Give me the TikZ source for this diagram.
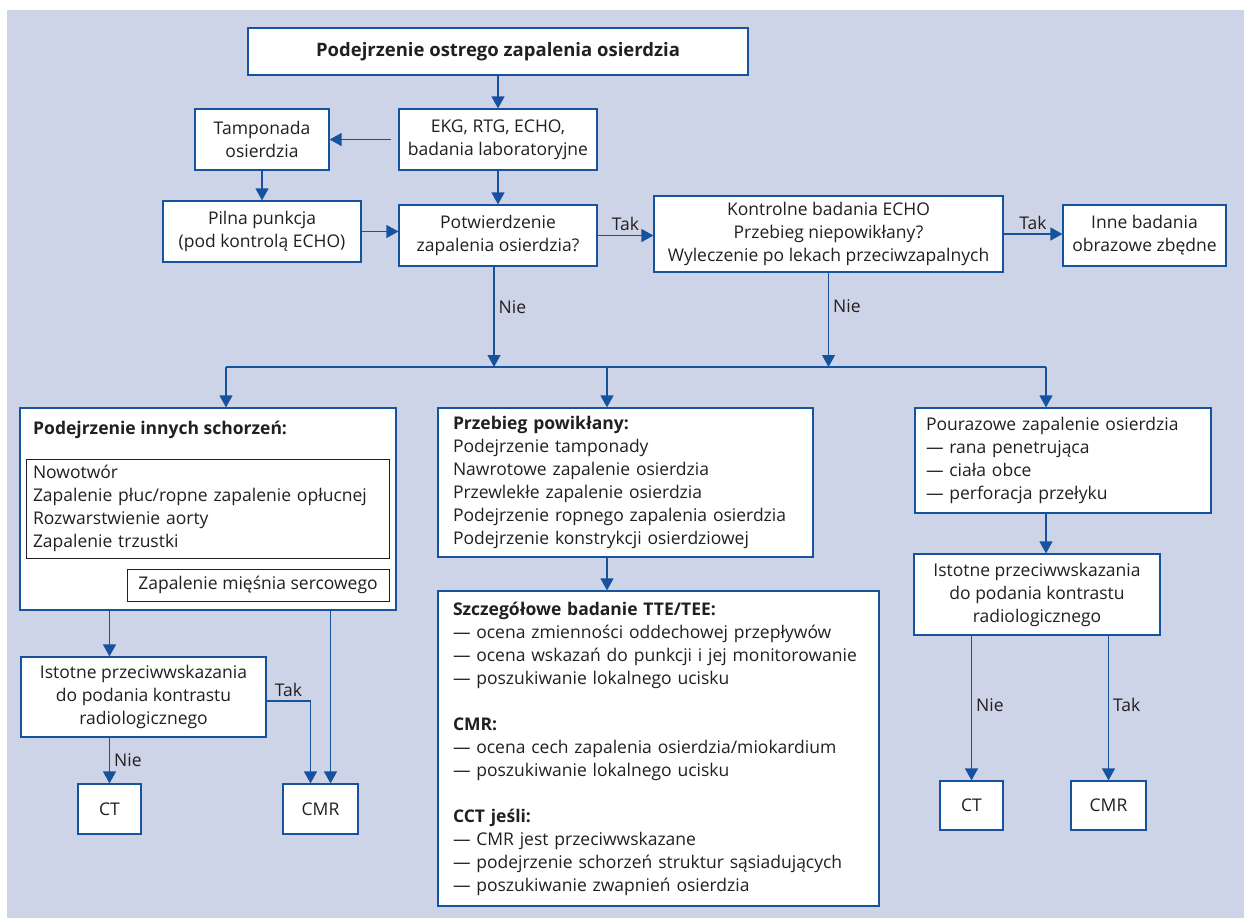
\documentclass[tikz,border=0pt]{standalone}
\usepackage{fontspec}
\setmainfont{Open Sans}
\usetikzlibrary{arrows.meta}
\definecolor{bgblue}{RGB}{205,212,231}
\definecolor{lineblue}{RGB}{22,82,158}
\definecolor{txt}{RGB}{35,31,32}
\tikzset{
  box/.style={draw=lineblue, fill=white, line width=1.2pt, text=txt, align=center,
    inner sep=0pt, font=\fontsize{17.5}{23}\selectfont},
  listbox/.style={box, align=left},
  innerbox/.style={box, draw=txt, line width=1pt},
  conn/.style={draw=lineblue, line width=1.3pt},
  arr/.style={conn, -{Triangle[width=13pt,length=12pt]}},
  lbl/.style={text=txt, font=\fontsize{17.5}{23}\selectfont, inner sep=4pt}
}
\begin{document}
\begin{tikzpicture}[x=1pt, y=-1pt]
% Background panel
\useasboundingbox (0,0) rectangle (1244,918);
\fill[bgblue] (7,10) rectangle (1244,918);

% Top part of the chart
\node[box, minimum width=500, minimum height=47, font=\fontsize{18.5}{23}\selectfont\bfseries] (start) at (498,51.5) {Podejrzenie ostrego zapalenia osierdzia};
\node[box, minimum width=198, minimum height=61] (ekg) at (498,139.5) {EKG, RTG, ECHO,\\badania laboratoryjne};
\node[box, minimum width=134, minimum height=61] (tamp) at (262,139.5) {Tamponada\\osierdzia};
\node[box, minimum width=198, minimum height=61] (pilna) at (262,231.5) {Pilna punkcja\\(pod kontrolą ECHO)};
\node[box, minimum width=198, minimum height=61] (potw) at (498,235.5) {Potwierdzenie\\zapalenia osierdzia?};
\node[box, minimum width=349, minimum height=76] (kontr) at (828.5,234) {Kontrolne badania ECHO\\Przebieg niepowikłany?\\Wyleczenie po lekach przeciwzapalnych};
\node[box, minimum width=163, minimum height=61] (inne) at (1144.5,235.5) {Inne badania\\obrazowe zbędne};

% Split line
\coordinate (busL) at (226,367);
\coordinate (busM) at (607,367);
\coordinate (busR) at (1046,367);
\coordinate (potwN) at (494,367);
\coordinate (kontrN) at (828.5,367);

% Left branch
\node[box, minimum width=376, minimum height=202] (inny) at (208,509) {};
\node[text=txt, anchor=west, inner sep=0pt, font=\fontsize{17.5}{23}\selectfont\bfseries] (innyT) at (33,430) {Podejrzenie innych schorzeń:};
\node[innerbox, align=left, text width=349, inner xsep=7pt, minimum height=99] (innyA) at (207.5,508.5) {Nowotwór\\Zapalenie płuc/ropne zapalenie opłucnej\\Rozwarstwienie aorty\\Zapalenie trzustki};
\node[innerbox, minimum width=262, minimum height=32] (innyB) at (258,585) {Zapalenie mięśnia sercowego};
\node[box, minimum width=245, minimum height=80] (istL) at (143.5,697) {Istotne przeciwwskazania\\do podania kontrastu\\radiologicznego};
\node[box, minimum width=63, minimum height=50] (ctL) at (109.5,809) {CT};
\node[box, minimum width=75, minimum height=50] (cmrL) at (320.5,809) {CMR};
\coordinate (cmrLtak) at ([xshift=-10pt]cmrL.north);
\coordinate (cmrLin) at ([xshift=10pt]cmrL.north);

% Middle branch
\node[listbox, text width=345, inner xsep=15pt, minimum height=149] (prz) at (625.5,482.5) {\textbf{Przebieg powikłany:}\\Podejrzenie tamponady\\Nawrotowe zapalenie osierdzia\\Przewlekłe zapalenie osierdzia\\Podejrzenie ropnego zapalenia osierdzia\\Podejrzenie konstrykcji osierdziowej};
\node[listbox, text width=411, inner xsep=15pt, minimum height=315] (szcz) at (658.5,748.5) {\textbf{Szczegółowe badanie TTE/TEE:}\\— ocena zmienności oddechowej przepływów\\— ocena wskazań do punkcji i jej monitorowanie\\— poszukiwanie lokalnego ucisku\\[23pt]\textbf{CMR:}\\— ocena cech zapalenia osierdzia/miokardium\\— poszukiwanie lokalnego ucisku\\[23pt]\textbf{CCT jeśli:}\\— CMR jest przeciwwskazane\\— podejrzenie schorzeń struktur sąsiadujących\\— poszukiwanie zwapnień osierdzia};

% Right branch
\node[listbox, text width=274, inner xsep=11pt, minimum height=105] (pour) at (1063,460.5) {Pourazowe zapalenie osierdzia\\— rana penetrująca\\— ciała obce\\— perforacja przełyku};
\node[box, minimum width=246, minimum height=81] (istR) at (1037,594.5) {Istotne przeciwwskazania\\do podania kontrastu\\radiologicznego};
\node[box, minimum width=63, minimum height=49] (ctR) at (971.5,805.5) {CT};
\node[box, minimum width=75, minimum height=49] (cmrR) at (1108.5,805.5) {CMR};

% Connectors, top part
\draw[arr] (start) -- (ekg);
\draw[arr, shorten <=7pt] (ekg.west) -- (tamp.east);
\draw[arr] (tamp) -- (pilna);
\draw[arr] (ekg) -- (potw);
\draw[arr] (pilna.east) -- (pilna.east -| potw.west);
\draw[arr] (potw.east) -- node[lbl, above] (takA) {Tak} (potw.east -| kontr.west);
\draw[arr] (kontr.east) -- node[lbl, above] (takB) {Tak} (kontr.east -| inne.west);
\draw[arr] (potw.south -| potwN) -- node[lbl, right, pos=0.4] (nieA) {Nie} (potwN);
\draw[arr] (kontr.south) -- node[lbl, right, pos=0.36] (nieB) {Nie} (kontrN);

% Split to the three branches
\draw[conn] (busL) -- (busR);
\draw[arr] (busL) -- (busL |- inny.north);
\draw[arr] (busM) -- (busM |- prz.north);
\draw[arr] (busR) -- (busR |- pour.north);

% Connectors, left branch
\draw[arr] (inny.south -| ctL) -- (istL.north -| ctL);
\draw[arr] (istL.south -| ctL) -- node[lbl, right] (nieC) {Nie} (ctL);
\draw[arr] ([yshift=-4pt]istL.east) -| node[lbl, above, pos=0.25] (takC) {Tak} (cmrLtak);
\draw[arr] (inny.south -| cmrLin) -- (cmrLin);

% Connectors, middle and right branch
\draw[arr] (prz.south -| busM) -- (szcz.north -| busM);
\draw[arr] (pour.south -| busR) -- (istR.north -| busR);
\draw[arr] (istR.south -| ctR) -- node[lbl, right, pos=0.48] (nieD) {Nie} (ctR);
\draw[arr] (istR.south -| cmrR) -- node[lbl, right, pos=0.48] (takD) {Tak} (cmrR);
\end{tikzpicture}
\end{document}
